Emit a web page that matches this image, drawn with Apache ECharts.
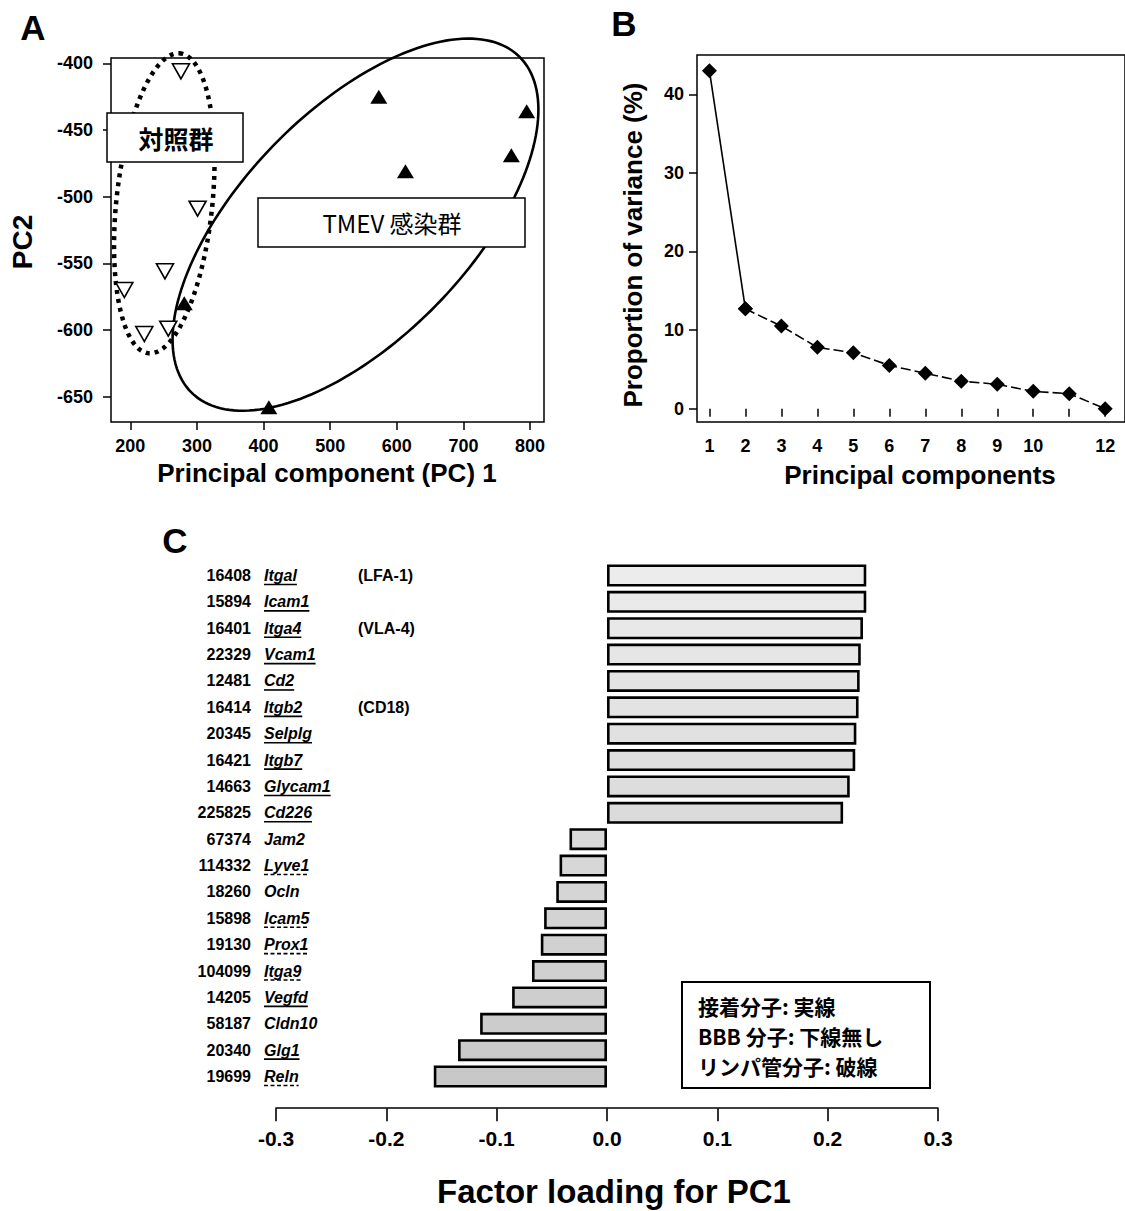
<!DOCTYPE html>
<html>
<head>
<meta charset="utf-8">
<script src="https://cdn.jsdelivr.net/npm/echarts@6/dist/echarts.min.js"></script>
<style>
html,body{margin:0;padding:0;background:#fff;}
#c{width:1125px;height:1211px;}
</style>
</head>
<body>
<div id="c"></div>
<script>
// ---------------- Panel A: PCA scores ----------------
const controlPC1 = [276, 301, 252, 191, 221, 257];
const controlPC2 = [-406, -509, -556, -570, -603, -599];
const tmevPC1 = [573, 613, 795, 772, 408, 281];
const tmevPC2 = [-425, -481, -436, -469, -658, -580];
const pcaXTicks = [200, 300, 400, 500, 600, 700, 800];
const pcaYTicks = [-650, -600, -550, -500, -450, -400];
// ellipse: centre x, centre y, semi-axis U (x,y), semi-axis V (x,y), dotted flag
const ellipseControl = [251, -505, 22.5, 112.5, 72, -2, 1];
const ellipseTmev = [538, -521, 246, 126, 122, -60, 0];
const groupLabels = ['対照群', 'TMEV 感染群'];

// ---------------- Panel B: scree plot ----------------
const components = [1, 2, 3, 4, 5, 6, 7, 8, 9, 10, 11, 12];
const varianceProp = [43.0, 12.7, 10.5, 7.8, 7.1, 5.5, 4.5, 3.5, 3.1, 2.2, 1.9, 0.0];
const screeXTickLabels = [1, 2, 3, 4, 5, 6, 7, 8, 9, 10, 12];
const screeYTicks = [0, 10, 20, 30, 40];

// ---------------- Panel C: factor loadings ----------------
const geneIds = [16408, 15894, 16401, 22329, 12481, 16414, 20345, 16421, 14663, 225825,
                 67374, 114332, 18260, 15898, 19130, 104099, 14205, 58187, 20340, 19699];
const geneNames = ['Itgal', 'Icam1', 'Itga4', 'Vcam1', 'Cd2', 'Itgb2', 'Selplg', 'Itgb7', 'Glycam1', 'Cd226',
                   'Jam2', 'Lyve1', 'Ocln', 'Icam5', 'Prox1', 'Itga9', 'Vegfd', 'Cldn10', 'Glg1', 'Reln'];
const geneAliases = ['(LFA-1)', '', '(VLA-4)', '', '', '(CD18)', '', '', '', '',
                     '', '', '', '', '', '', '', '', '', ''];
const geneUnderline = ['solid', 'solid', 'solid', 'solid', 'solid', 'solid', 'solid', 'solid', 'solid', 'solid',
                       'none', 'dashed', 'none', 'dashed', 'dashed', 'dashed', 'solid', 'none', 'solid', 'dashed'];
const pc1Loadings = [0.235, 0.235, 0.232, 0.230, 0.229, 0.228, 0.226, 0.225, 0.220, 0.214,
                     -0.034, -0.043, -0.046, -0.057, -0.060, -0.068, -0.086, -0.115, -0.135, -0.157];
const loadingTicks = [-0.3, -0.2, -0.1, 0.0, 0.1, 0.2, 0.3];
const legendLines = ['接着分子: 実線', 'BBB 分子: 下線無し', 'リンパ管分子: 破線'];

// ---------------- rendering ----------------
const FONT = '"Liberation Sans", Arial, Helvetica, sans-serif';
const CJK = '"Noto Sans CJK JP", "Noto Sans CJK SC", sans-serif';

const measureCtx = document.createElement('canvas').getContext('2d');
function textWidth(t, font) { measureCtx.font = font; return measureCtx.measureText(t).width; }

const chart = echarts.init(document.getElementById('c'), null, {renderer: 'svg', width: 1125, height: 1211});

function renderEllipse(params, api) {
  const cx = api.value(0), cy = api.value(1);
  const ux = api.value(2), uy = api.value(3), vx = api.value(4), vy = api.value(5);
  const dotted = api.value(6) === 1;
  const pts = [];
  const N = 180;
  for (let k = 0; k < N; k++) {
    const t = 2 * Math.PI * k / N;
    pts.push(api.coord([cx + ux * Math.cos(t) + vx * Math.sin(t), cy + uy * Math.cos(t) + vy * Math.sin(t)]));
  }
  return {
    type: 'polygon',
    shape: {points: pts},
    style: dotted
      ? {fill: 'none', stroke: '#000', lineWidth: 4.5, lineDash: [4, 5]}
      : {fill: 'none', stroke: '#000', lineWidth: 2.6}
  };
}

const nameFontSpec = {fontStyle: 'italic', fontWeight: 'bold', fontSize: 16, fontFamily: FONT};
const nameFont = 'italic bold 16px ' + FONT;

function renderGeneLabel(params, api) {
  const i = api.value(1);
  const y = api.coord([0, i])[1];
  const name = geneNames[i];
  const children = [
    {type: 'text', style: {text: String(geneIds[i]), x: 251, y: y, align: 'right', verticalAlign: 'middle',
      fontWeight: 'bold', fontSize: 16, fontFamily: FONT, fill: '#000'}},
    {type: 'text', style: Object.assign({text: name, x: 264, y: y, align: 'left', verticalAlign: 'middle', fill: '#000'}, nameFontSpec)}
  ];
  if (geneAliases[i]) {
    children.push({type: 'text', style: {text: geneAliases[i], x: 358, y: y, align: 'left', verticalAlign: 'middle',
      fontWeight: 'bold', fontSize: 16, fontFamily: FONT, fill: '#000'}});
  }
  if (geneUnderline[i] !== 'none') {
    const w = textWidth(name, nameFont);
    children.push({type: 'line', shape: {x1: 264, y1: y + 9, x2: 264 + w, y2: y + 9},
      style: {stroke: '#000', lineWidth: 1.6, lineDash: geneUnderline[i] === 'dashed' ? [4, 2.5] : null}});
  }
  return {type: 'group', children: children};
}

const barColors = pc1Loadings.map((v, i) => {
  const g = Math.round(236 - i * 1.9);
  return 'rgb(' + g + ',' + g + ',' + g + ')';
});

const tickStyle = {color: '#000', width: 1.5};
const labelA = {color: '#000', fontSize: 18, fontWeight: 'bold', fontFamily: FONT};

const option = {
  animation: false,
  backgroundColor: '#fff',
  grid: [
    {left: 111, top: 58, width: 433, height: 364, show: true, borderColor: '#000', borderWidth: 1.5, backgroundColor: 'rgba(0,0,0,0)'},
    {left: 697, top: 55, width: 431, height: 367, show: true, borderColor: '#000', borderWidth: 1.5, backgroundColor: 'rgba(0,0,0,0)'},
    {left: 276, top: 562.3, width: 662, height: 527.4, show: false}
  ],
  xAxis: [
    {gridIndex: 0, type: 'value', min: 171, max: 821,
     axisLine: {show: false}, splitLine: {show: false},
     axisTick: {show: true, length: 8, customValues: pcaXTicks, lineStyle: tickStyle},
     axisLabel: Object.assign({customValues: pcaXTicks, margin: 15}, labelA)},
    {gridIndex: 1, type: 'value', min: 0.655, max: 12.55,
     axisLine: {show: false}, splitLine: {show: false},
     axisTick: {show: true, length: 8, customValues: components, lineStyle: tickStyle},
     axisLabel: Object.assign({customValues: screeXTickLabels, margin: 15}, labelA)},
    {gridIndex: 2, type: 'value', min: -0.3, max: 0.3, offset: 18.5,
     axisLine: {show: true, onZero: false, lineStyle: {color: '#000', width: 1.6}}, splitLine: {show: false},
     axisTick: {show: true, length: 13, customValues: loadingTicks, lineStyle: {color: '#000', width: 1.6}},
     axisLabel: {customValues: loadingTicks, margin: 20, color: '#000', fontSize: 21, fontWeight: 'bold', fontFamily: FONT,
       formatter: v => v.toFixed(1)}}
  ],
  yAxis: [
    {gridIndex: 0, type: 'value', min: -669, max: -396,
     axisLine: {show: false}, splitLine: {show: false},
     axisTick: {show: true, length: 8, customValues: pcaYTicks, lineStyle: tickStyle},
     axisLabel: Object.assign({customValues: pcaYTicks, margin: 18}, labelA)},
    {gridIndex: 1, type: 'value', min: -1.7, max: 45,
     axisLine: {show: false}, splitLine: {show: false},
     axisTick: {show: true, length: 8, customValues: screeYTicks, lineStyle: tickStyle},
     axisLabel: Object.assign({customValues: screeYTicks, margin: 13}, labelA)},
    {gridIndex: 2, type: 'category', data: geneNames, inverse: true,
     axisLine: {show: false}, axisTick: {show: false}, axisLabel: {show: false}, splitLine: {show: false}}
  ],
  series: [
    {type: 'custom', xAxisIndex: 0, yAxisIndex: 0, clip: false, silent: true, z: 2,
     renderItem: renderEllipse, encode: {x: 0, y: 1},
     data: [ellipseControl, ellipseTmev]},
    {type: 'scatter', xAxisIndex: 0, yAxisIndex: 0, z: 4, symbol: 'triangle', symbolRotate: 180, symbolSize: [17, 15],
     itemStyle: {color: '#fff', borderColor: '#000', borderWidth: 1.6, opacity: 1},
     data: controlPC1.map((x, i) => [x, controlPC2[i]])},
    {type: 'scatter', xAxisIndex: 0, yAxisIndex: 0, z: 4, symbol: 'triangle', symbolSize: [17, 14],
     itemStyle: {color: '#000', opacity: 1},
     data: tmevPC1.map((x, i) => [x, tmevPC2[i]])},
    {type: 'line', xAxisIndex: 1, yAxisIndex: 1, z: 3, symbol: 'diamond', symbolSize: [15, 15],
     itemStyle: {color: '#000'}, lineStyle: {color: '#000', width: 1.6},
     data: components.slice(0, 2).map((c, i) => [c, varianceProp[i]])},
    {type: 'line', xAxisIndex: 1, yAxisIndex: 1, z: 3, symbol: 'diamond', symbolSize: [15, 15],
     itemStyle: {color: '#000'}, lineStyle: {color: '#000', width: 1.6, type: [10, 4]},
     data: components.slice(1).map((c, i) => [c, varianceProp[i + 1]])},
    {type: 'bar', xAxisIndex: 2, yAxisIndex: 2, barWidth: 22,
     data: pc1Loadings.map((v, i) => ({value: v, itemStyle: {color: barColors[i]}})),
     itemStyle: {borderColor: '#000', borderWidth: 2.6}},
    {type: 'custom', xAxisIndex: 2, yAxisIndex: 2, clip: false, silent: true,
     renderItem: renderGeneLabel, encode: {x: 0, y: 1},
     data: geneNames.map((n, i) => [0, i])}
  ],
  graphic: [
    {type: 'text', x: 33, y: 27, z: 100, style: {text: 'A', align: 'center', verticalAlign: 'middle', fontSize: 35, fontWeight: 'bold', fontFamily: FONT, fill: '#000'}},
    {type: 'text', x: 624, y: 23, z: 100, style: {text: 'B', align: 'center', verticalAlign: 'middle', fontSize: 35, fontWeight: 'bold', fontFamily: FONT, fill: '#000'}},
    {type: 'text', x: 175, y: 540, z: 100, style: {text: 'C', align: 'center', verticalAlign: 'middle', fontSize: 35, fontWeight: 'bold', fontFamily: FONT, fill: '#000'}},
    // axis titles
    {type: 'text', x: 327, y: 473, z: 100, style: {text: 'Principal component (PC) 1', align: 'center', verticalAlign: 'middle', fontSize: 26, fontWeight: 'bold', fontFamily: FONT, fill: '#000'}},
    {type: 'text', x: 22, y: 242, rotation: Math.PI / 2, z: 100, style: {text: 'PC2', align: 'center', verticalAlign: 'middle', fontSize: 28, fontWeight: 'bold', fontFamily: FONT, fill: '#000'}},
    {type: 'text', x: 633, y: 245, rotation: Math.PI / 2, z: 100, style: {text: 'Proportion of variance (%)', align: 'center', verticalAlign: 'middle', fontSize: 26, fontWeight: 'bold', fontFamily: FONT, fill: '#000'}},
    {type: 'text', x: 920, y: 475, z: 100, style: {text: 'Principal components', align: 'center', verticalAlign: 'middle', fontSize: 26, fontWeight: 'bold', fontFamily: FONT, fill: '#000'}},
    {type: 'text', x: 614, y: 1191, z: 100, style: {text: 'Factor loading for PC1', align: 'center', verticalAlign: 'middle', fontSize: 33, fontWeight: 'bold', fontFamily: FONT, fill: '#000'}},
    // panel A group boxes
    {type: 'rect', z: 100, shape: {x: 107, y: 113, width: 136, height: 49}, style: {fill: '#fff', stroke: '#000', lineWidth: 1.5}},
    {type: 'text', x: 176, y: 138, z: 101, style: {text: groupLabels[0], align: 'center', verticalAlign: 'middle', fontSize: 25, fontWeight: 'bold', fontFamily: CJK, fill: '#000'}},
    {type: 'rect', z: 100, shape: {x: 258, y: 198, width: 267, height: 49}, style: {fill: '#fff', stroke: '#000', lineWidth: 1.5}},
    {type: 'text', x: 392, y: 222, z: 101, style: {text: groupLabels[1], align: 'center', verticalAlign: 'middle', fontSize: 24, fontWeight: 'normal', fontFamily: CJK, fill: '#000'}},
    // panel C legend box
    {type: 'rect', z: 100, shape: {x: 682, y: 982, width: 248, height: 106}, style: {fill: '#fff', stroke: '#000', lineWidth: 2}},
    {type: 'text', x: 698, y: 1006, z: 101, style: {text: legendLines[0], align: 'left', verticalAlign: 'middle', fontSize: 21, fontWeight: 'bold', fontFamily: CJK, fill: '#000'}},
    {type: 'text', x: 698, y: 1036, z: 101, style: {text: legendLines[1], align: 'left', verticalAlign: 'middle', fontSize: 21, fontWeight: 'bold', fontFamily: CJK, fill: '#000'}},
    {type: 'text', x: 698, y: 1066, z: 101, style: {text: legendLines[2], align: 'left', verticalAlign: 'middle', fontSize: 21, fontWeight: 'bold', fontFamily: CJK, fill: '#000'}}
  ]
};
chart.setOption(option);
</script>
</body>
</html>
